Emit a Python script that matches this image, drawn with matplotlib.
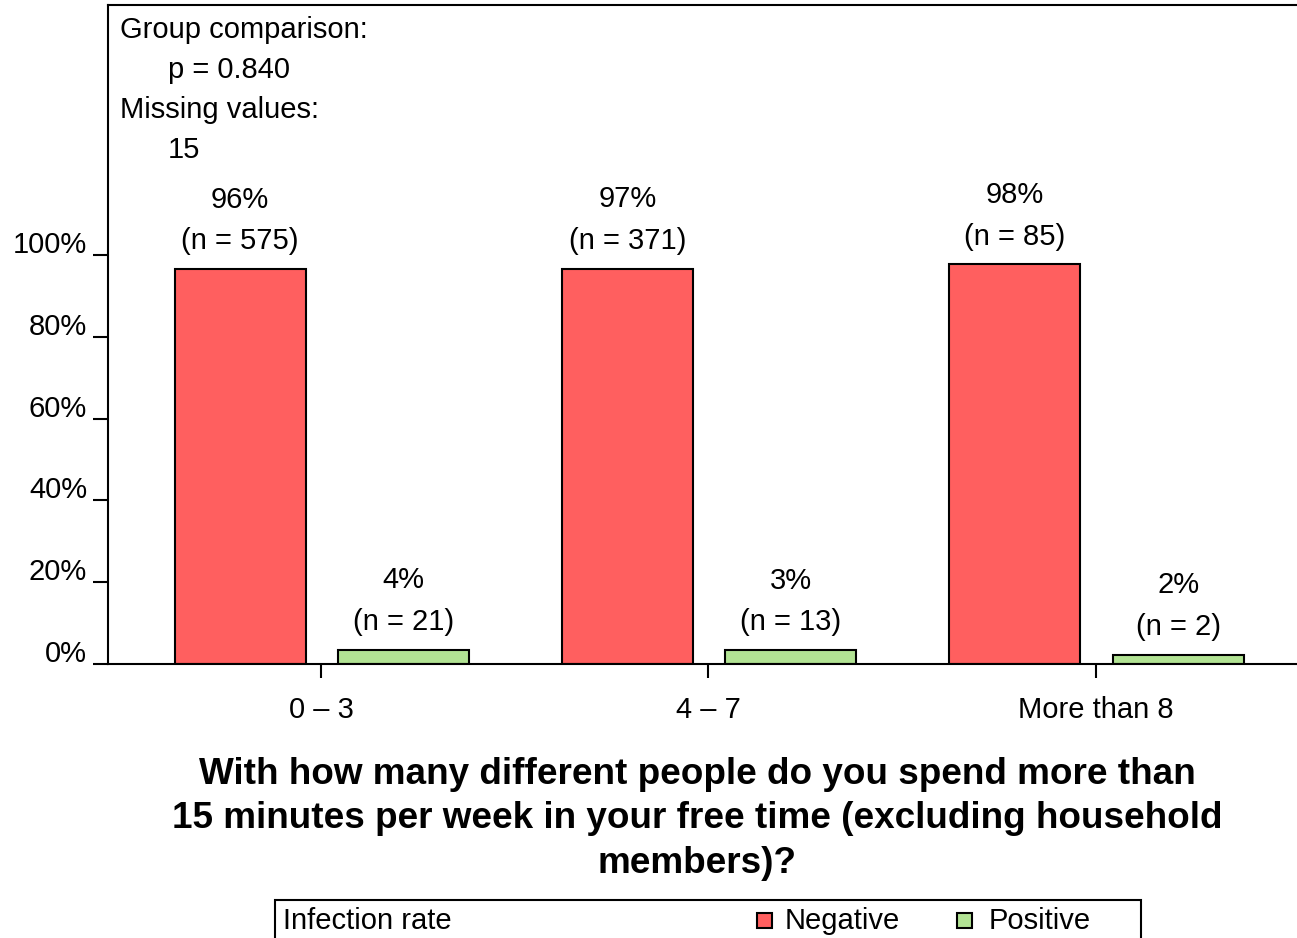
import numpy as np
import matplotlib
matplotlib.use("Agg")
import matplotlib.pyplot as plt
from matplotlib.patches import Rectangle
import matplotlib.transforms as mtransforms

plt.rcParams['font.family'] = ['Liberation Sans', 'DejaVu Sans']

categories = ["0 \u2013 3", "4 \u2013 7", "More than 8"]
negative = [96.5, 96.6, 97.7]
positive = [3.5, 3.4, 2.3]
negative_n = [575, 371, 85]
positive_n = [21, 13, 2]
negative_pct = ["96%", "97%", "98%"]
positive_pct = ["4%", "3%", "2%"]
series_names = ["Negative", "Positive"]
colors = ["#FF5F5F", "#B2E394"]
y_ticks = [0, 20, 40, 60, 80, 100]
y_ticklabels = ["0%", "20%", "40%", "60%", "80%", "100%"]
title_lines = [
    "With how many different people do you spend more than",
    "15 minutes per week in your free time (excluding household",
    "members)?",
]
info_lines = ["Group comparison:", "p = 0.840", "Missing values:", "15"]

W, H = 1297, 938
fig = plt.figure(figsize=(W / 100, H / 100), dpi=100)
ax = fig.add_axes([108 / W, 1 - 664 / H, 1 - 108 / W, (664 - 5) / H])

x = np.arange(len(categories))
width = 0.338
ax.bar(x - 0.209, negative, width, color=colors[0], edgecolor="black", linewidth=1.5)
ax.bar(x + 0.213, positive, width, color=colors[1], edgecolor="black", linewidth=1.5)

for xi, v, pct, n in zip(x - 0.209, negative, negative_pct, negative_n):
    ax.annotate(f"(n = {n})", (xi, v), xytext=(0, 20), textcoords="offset points",
                ha="center", va="center", fontsize=21)
    ax.annotate(pct, (xi, v), xytext=(0, 50), textcoords="offset points",
                ha="center", va="center", fontsize=21)
for xi, v, pct, n in zip(x + 0.213, positive, positive_pct, positive_n):
    ax.annotate(f"(n = {n})", (xi, v), xytext=(0, 20), textcoords="offset points",
                ha="center", va="center", fontsize=21)
    ax.annotate(pct, (xi, v), xytext=(0, 50), textcoords="offset points",
                ha="center", va="center", fontsize=21)

ax.set_xlim(-0.55, 2.52)
ax.set_ylim(0, 161.1)
ax.set_xticks(x)
ax.set_xticklabels(categories, fontsize=21)
ax.set_yticks(y_ticks)
ax.set_yticklabels(y_ticklabels, fontsize=21)
ax.tick_params(axis="y", length=11, width=1.5, pad=4)
ax.tick_params(axis="x", length=10, width=1.5, pad=13)
shift = mtransforms.ScaledTranslation(0, 2 / 100, fig.dpi_scale_trans)
for lab in ax.get_yticklabels():
    lab.set_verticalalignment("baseline")
    lab.set_transform(lab.get_transform() + shift)
for s in ["left", "top", "bottom"]:
    ax.spines[s].set_linewidth(1.5)
ax.spines["right"].set_visible(False)

# info text in the top left corner
info_pos = [(120, 30), (168, 70), (120, 110), (168, 150)]
for (px, py), t in zip(info_pos, info_lines):
    fig.text(px / W, 1 - py / H, t, ha="left", va="center", fontsize=21)

for i, t in enumerate(title_lines):
    fig.text(697 / W, 1 - (774 + 44.5 * i) / H, t, ha="center", va="center",
             fontsize=26.6, fontweight="bold")

# legend box
fig.add_artist(Rectangle((275 / W, -0.05), (1141 - 275) / W, 0.05 + 1 - 900 / H,
                         transform=fig.transFigure, fill=False, edgecolor="black", linewidth=1.5))
fig.text(283 / W, 1 - 921 / H, "Infection rate", ha="left", va="center", fontsize=21)
for sx, tx, name, c in zip([757, 957], [785, 989], series_names, colors):
    fig.add_artist(Rectangle((sx / W, 1 - 928 / H), 15 / W, 15 / H, transform=fig.transFigure,
                             facecolor=c, edgecolor="black", linewidth=1.5))
    fig.text(tx / W, 1 - 921 / H, name, ha="left", va="center", fontsize=21)

fig.savefig("out.png", dpi=100)
